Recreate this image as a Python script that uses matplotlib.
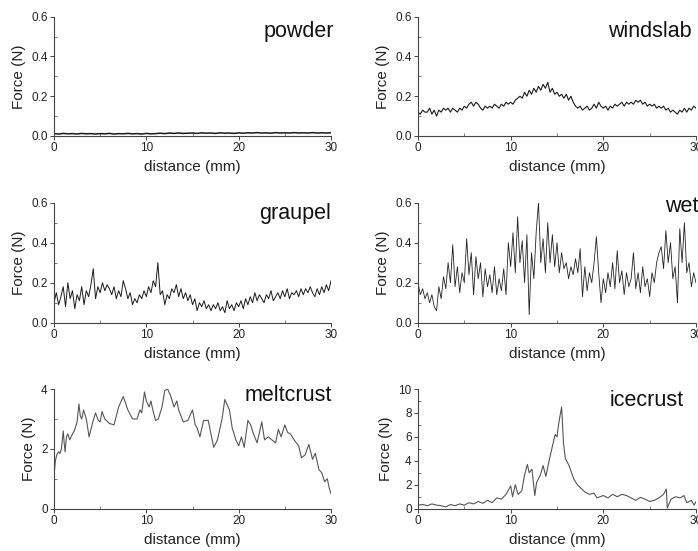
import numpy as np
import matplotlib
matplotlib.use("Agg")
import matplotlib.pyplot as plt
from matplotlib.ticker import MultipleLocator, FormatStrFormatter

plt.rcParams['font.family'] = ['Liberation Sans', 'DejaVu Sans']

# ---------------- data ----------------
powder_force = [0.012, 0.010, 0.013, 0.011, 0.012, 0.010, 0.013, 0.011, 0.012, 0.010,
                0.012, 0.011, 0.013, 0.010, 0.012, 0.011, 0.013, 0.011, 0.012, 0.010,
                0.013, 0.011, 0.012, 0.014, 0.012, 0.015, 0.013, 0.015, 0.013, 0.014,
                0.015, 0.013, 0.016, 0.014, 0.015, 0.013, 0.016, 0.014, 0.015, 0.013,
                0.016, 0.014, 0.016, 0.015, 0.017, 0.015, 0.016, 0.014, 0.017, 0.015,
                0.016, 0.015, 0.017, 0.015, 0.016, 0.015, 0.017, 0.015, 0.016, 0.015, 0.016]

windslab_force = [0.12, 0.11, 0.13, 0.12, 0.12, 0.14, 0.11, 0.13, 0.10, 0.13, 0.12, 0.14,
                  0.13, 0.14, 0.12, 0.14, 0.13, 0.12, 0.14, 0.13, 0.15, 0.14, 0.16, 0.17,
                  0.15, 0.17, 0.16, 0.14, 0.13, 0.15, 0.14, 0.15, 0.14, 0.16, 0.15, 0.14,
                  0.16, 0.15, 0.17, 0.16, 0.17, 0.16, 0.18, 0.19, 0.20, 0.19, 0.22, 0.20,
                  0.23, 0.21, 0.24, 0.22, 0.25, 0.23, 0.26, 0.24, 0.27, 0.22, 0.24, 0.21,
                  0.22, 0.20, 0.21, 0.19, 0.21, 0.18, 0.20, 0.17, 0.15, 0.14, 0.15, 0.13,
                  0.14, 0.15, 0.13, 0.14, 0.16, 0.14, 0.17, 0.15, 0.14, 0.15, 0.13, 0.15,
                  0.14, 0.16, 0.15, 0.16, 0.17, 0.15, 0.17, 0.16, 0.17, 0.16, 0.18, 0.17,
                  0.18, 0.16, 0.17, 0.15, 0.16, 0.15, 0.16, 0.14, 0.15, 0.14, 0.15, 0.13,
                  0.14, 0.12, 0.13, 0.12, 0.11, 0.13, 0.12, 0.14, 0.12, 0.14, 0.13, 0.15, 0.14]

graupel_force = [0.10, 0.15, 0.09, 0.13, 0.18, 0.08, 0.20, 0.12, 0.16, 0.07, 0.14, 0.11,
                 0.18, 0.09, 0.16, 0.13, 0.19, 0.27, 0.12, 0.18, 0.15, 0.20, 0.16, 0.19,
                 0.17, 0.14, 0.18, 0.12, 0.16, 0.13, 0.21, 0.17, 0.12, 0.15, 0.09, 0.12,
                 0.10, 0.14, 0.12, 0.16, 0.13, 0.18, 0.15, 0.21, 0.18, 0.30, 0.14, 0.16,
                 0.09, 0.14, 0.12, 0.17, 0.15, 0.19, 0.13, 0.17, 0.12, 0.15, 0.11, 0.14,
                 0.09, 0.12, 0.06, 0.10, 0.08, 0.11, 0.07, 0.09, 0.06, 0.09, 0.07, 0.10,
                 0.06, 0.08, 0.05, 0.11, 0.07, 0.09, 0.06, 0.10, 0.08, 0.11, 0.07, 0.12,
                 0.09, 0.13, 0.10, 0.15, 0.11, 0.14, 0.12, 0.10, 0.14, 0.12, 0.16, 0.11,
                 0.13, 0.15, 0.12, 0.16, 0.13, 0.17, 0.12, 0.15, 0.14, 0.16, 0.13, 0.17,
                 0.14, 0.17, 0.15, 0.18, 0.15, 0.13, 0.17, 0.14, 0.18, 0.15, 0.19, 0.16, 0.21]

wet_force = [0.20, 0.14, 0.17, 0.12, 0.15, 0.10, 0.14, 0.08, 0.06, 0.18, 0.12, 0.23,
             0.17, 0.30, 0.20, 0.39, 0.18, 0.28, 0.15, 0.25, 0.20, 0.42, 0.24, 0.35,
             0.14, 0.33, 0.22, 0.30, 0.13, 0.27, 0.18, 0.24, 0.15, 0.28, 0.14, 0.22,
             0.16, 0.27, 0.14, 0.40, 0.28, 0.45, 0.25, 0.53, 0.30, 0.41, 0.20, 0.44,
             0.04, 0.35, 0.22, 0.45, 0.60, 0.30, 0.42, 0.25, 0.50, 0.30, 0.44, 0.28,
             0.40, 0.25, 0.35, 0.27, 0.30, 0.22, 0.28, 0.24, 0.32, 0.25, 0.37, 0.13,
             0.28, 0.16, 0.25, 0.20, 0.30, 0.43, 0.25, 0.10, 0.22, 0.15, 0.25, 0.18,
             0.30, 0.17, 0.36, 0.20, 0.26, 0.14, 0.25, 0.18, 0.22, 0.35, 0.17, 0.25,
             0.15, 0.28, 0.18, 0.22, 0.13, 0.25, 0.20, 0.30, 0.35, 0.38, 0.27, 0.46,
             0.30, 0.40, 0.22, 0.28, 0.10, 0.47, 0.30, 0.50, 0.25, 0.30, 0.18, 0.25, 0.20]

melt_dist = [0.0, 0.15, 0.3, 0.5, 0.65, 0.8, 1.0, 1.1, 1.2, 1.35, 1.5, 1.7, 2.0, 2.2, 2.5,
             2.7, 2.85, 3.0, 3.2, 3.5, 3.8, 4.2, 4.5, 4.8, 5.0, 5.2, 5.5, 6.0, 6.5, 7.0,
             7.5, 8.0, 8.5, 9.0, 9.3, 9.5, 9.8, 10.0, 10.3, 10.5, 10.7, 11.0, 11.3, 11.7,
             12.0, 12.3, 12.6, 13.0, 13.3, 13.5, 14.0, 14.5, 15.0, 15.3, 15.5, 15.8,
             16.2, 16.7, 17.0, 17.3, 17.7, 18.2, 18.5, 19.0, 19.3, 19.7, 20.0, 20.3,
             20.6, 21.0, 21.3, 21.6, 22.0, 22.5, 22.8, 23.2, 23.6, 24.0, 24.3, 24.6,
             25.0, 25.3, 25.6, 26.0, 26.5, 26.8, 27.2, 27.6, 28.0, 28.3, 28.7, 29.0,
             29.3, 29.6, 29.8, 30.0]
melt_force = [1.1, 1.6, 1.8, 1.9, 1.85, 2.0, 2.6, 2.2, 1.9, 2.4, 2.5, 2.3, 2.5, 2.6, 2.9,
              3.5, 3.1, 3.0, 3.3, 3.0, 2.4, 2.9, 3.2, 2.95, 2.9, 3.25, 3.0, 2.85, 2.8, 3.4,
              3.75, 3.3, 3.0, 3.0, 3.3, 3.2, 3.9, 3.6, 3.4, 3.6, 3.3, 2.95, 3.0, 3.4,
              3.95, 4.0, 3.8, 3.4, 3.6, 3.3, 2.9, 2.95, 3.3, 2.8, 2.7, 2.4,
              2.95, 2.95, 2.5, 2.05, 2.3, 3.0, 3.65, 3.3, 2.7, 2.3, 2.1, 2.4,
              2.05, 2.95, 2.8, 2.5, 2.2, 2.9, 2.3, 2.4, 2.3, 2.2, 2.65, 2.4,
              2.8, 2.55, 2.5, 2.3, 2.1, 1.7, 1.8, 2.15, 1.65, 1.85, 1.3, 1.2,
              0.9, 1.0, 0.7, 0.5]

ice_dist = [0.0, 0.5, 1.0, 1.5, 2.0, 2.5, 3.0, 3.5, 4.0, 4.5, 5.0, 5.5, 6.0, 6.5, 7.0,
            7.5, 8.0, 8.5, 9.0, 9.5, 10.0, 10.2, 10.5, 10.8, 11.2, 11.5, 11.8, 12.0,
            12.3, 12.6, 12.8, 13.2, 13.5, 13.8, 14.2, 14.5, 14.8, 15.0, 15.2, 15.5,
            15.7, 15.9, 16.3, 16.8, 17.2, 17.6, 18.0, 18.5, 19.0, 19.3, 20.0, 20.5,
            21.0, 21.5, 22.0, 22.5, 23.0, 23.5, 24.0, 24.5, 25.0, 25.5, 26.0, 26.5,
            26.8, 26.9, 27.3, 27.8, 28.3, 28.7, 29.0, 29.5, 29.8, 30.0]
ice_force = [0.3, 0.35, 0.25, 0.4, 0.3, 0.25, 0.15, 0.35, 0.25, 0.4, 0.3, 0.5, 0.4, 0.6,
             0.45, 0.7, 0.5, 0.9, 0.8, 1.2, 1.9, 1.0, 2.0, 1.2, 1.5, 2.8, 3.7, 3.0,
             3.3, 1.1, 2.2, 2.8, 3.6, 2.7, 4.2, 5.2, 6.2, 6.0, 7.2, 8.5,
             5.5, 4.2, 3.6, 2.5, 2.0, 1.7, 1.4, 1.2, 1.3, 0.9, 1.1, 0.9,
             1.2, 1.0, 1.2, 1.1, 0.9, 0.7, 0.95, 0.8, 0.6, 0.7, 0.9, 1.2,
             1.65, 0.05, 0.8, 1.0, 0.9, 1.1, 0.5, 0.7, 0.3, 0.6]

names = ["powder", "windslab", "graupel", "wet", "meltcrust", "icecrust"]

# ---------------- layout ----------------
W, H = 698, 551
fig = plt.figure(figsize=(W / 100, H / 100), dpi=100)

col_x = [54 / W, 418 / W]
col_w = [277 / W, 278 / W]
row_top = [16.7, 202.7, 389.0]
row_bot = [136.0, 322.7, 508.7]

panels = [
    (0, 0, np.linspace(0, 30, len(powder_force)), powder_force, 0.6, 0.2, 0.1, '%.1f', '#1a1a1a', 1.1),
    (0, 1, np.linspace(0, 30, len(windslab_force)), windslab_force, 0.6, 0.2, 0.1, '%.1f', '#1a1a1a', 0.8),
    (1, 0, np.linspace(0, 30, len(graupel_force)), graupel_force, 0.6, 0.2, 0.1, '%.1f', '#1a1a1a', 0.7),
    (1, 1, np.linspace(0, 30, len(wet_force)), wet_force, 0.6, 0.2, 0.1, '%.1f', '#222222', 0.6),
    (2, 0, melt_dist, melt_force, 4, 2, 1, '%d', '#555555', 0.8),
    (2, 1, ice_dist, ice_force, 10, 2, 1, '%d', '#555555', 0.8),
]
title_pos = [(1.011, 0.874), (0.986, 0.874), (1.0, 0.914),
             (1.007, 0.972), (1.004, 0.942), (0.957, 0.908)]

for i, (r, c, xs, ys, ymax, ymaj, ymin, fmt, col, lw) in enumerate(panels):
    top, bot = row_top[r], row_bot[r]
    ax = fig.add_axes([col_x[c], 1 - bot / H, col_w[c], (bot - top) / H])
    ax.plot(xs, ys, color=col, lw=lw)
    ax.set_xlim(0, 30)
    ax.set_ylim(0, ymax)
    ax.xaxis.set_major_locator(MultipleLocator(10))
    ax.xaxis.set_minor_locator(MultipleLocator(5))
    ax.yaxis.set_major_locator(MultipleLocator(ymaj))
    ax.yaxis.set_minor_locator(MultipleLocator(ymin))
    ax.yaxis.set_major_formatter(FormatStrFormatter(fmt))
    for s in ['top', 'right']:
        ax.spines[s].set_visible(False)
    for s in ['left', 'bottom']:
        ax.spines[s].set_color('#444444')
        ax.spines[s].set_linewidth(0.8)
    ax.tick_params(which='major', direction='out', length=3, width=0.7,
                   colors='#444444', labelcolor='#222222', labelsize=8.5, pad=1.5)
    ax.tick_params(which='minor', direction='in', length=2, width=0.6, colors='#666666')
    ax.set_xlabel("distance (mm)", fontsize=11, color='#222222', labelpad=4)
    ax.set_ylabel("Force (N)", fontsize=11, color='#222222', labelpad=4)
    tx, ty = title_pos[i]
    ax.text(tx, ty, names[i], transform=ax.transAxes, ha='right', va='center',
            fontsize=15.5, color='#111111', clip_on=False)

fig.savefig("out.png", dpi=100)
